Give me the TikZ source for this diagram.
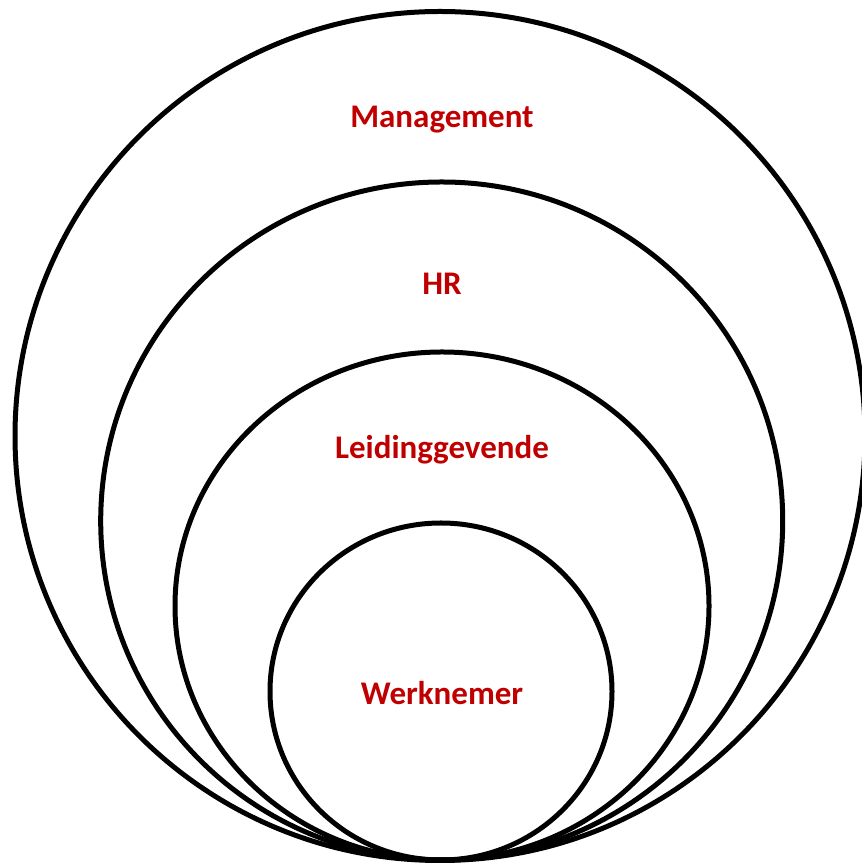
\documentclass[tikz,border=0pt]{standalone}
\usepackage{fontspec}
\setmainfont{Carlito}
\definecolor{lblred}{HTML}{C00000}
\begin{document}
\begin{tikzpicture}[x=1pt,y=1pt,
  ring/.style={draw=black,line width=5pt},
  lbl/.style={text=lblred,font=\fontsize{33}{40}\selectfont\bfseries,inner sep=0pt}]
\useasboundingbox (0,0) rectangle (861,866);
\draw[ring] (440,430) ellipse [x radius=425,y radius=424.5];
\draw[ring] (441.7,345) ellipse [x radius=341,y radius=339];
\draw[ring] (442,260) ellipse [x radius=267,y radius=254];
\draw[ring] (441,174.5) ellipse [x radius=171,y radius=168.5];
\node[lbl] (mgmt) at (442,746) {Management};
\node[lbl] (hr) at (442,582) {HR};
\node[lbl] (leid) at (442,416) {Leidinggevende};
\node[lbl] (werk) at (442,173) {Werknemer};
\end{tikzpicture}
\end{document}
